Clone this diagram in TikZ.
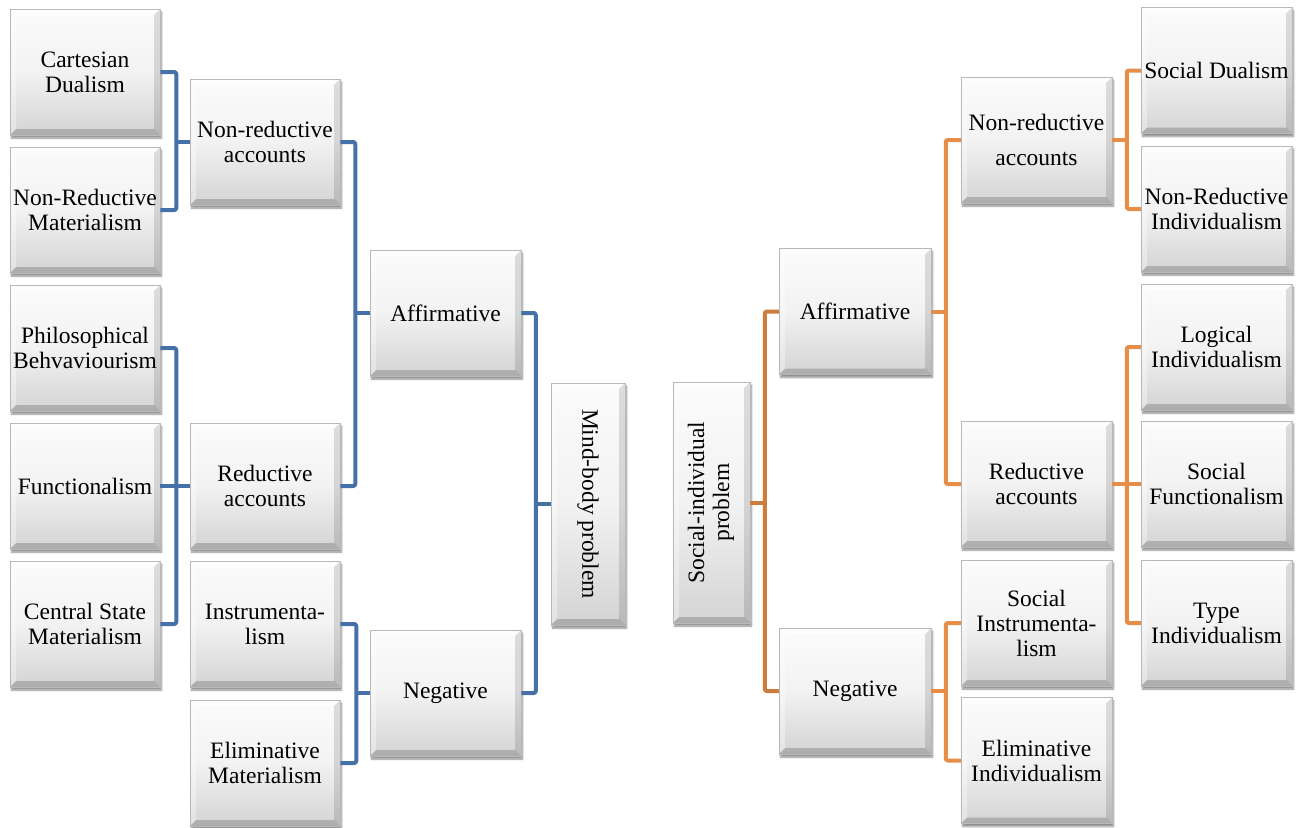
\documentclass[tikz,border=0pt]{standalone}
\usepackage{fontspec}
\setmainfont{Liberation Serif}
\usepackage{graphicx}
\usetikzlibrary{shadows.blur}

\definecolor{mbblue}{RGB}{70,112,168}
\definecolor{sidark}{RGB}{205,124,60}
\definecolor{silight}{RGB}{230,142,72}
\newcommand\bevw{6pt}

\tikzset{
  box/.style={
    rectangle, align=center, inner sep=1pt,
    minimum width=150pt, minimum height=126pt,
    top color=gray!3, bottom color=gray!34, middle color=gray!10,
    draw=gray!55, line width=0.5pt,
    font=\rmfamily\fontsize{23.5}{25}\selectfont,
    blur shadow={shadow xshift=1.5pt, shadow yshift=-3pt, shadow blur steps=6, shadow opacity=45},
    path picture={
      \fill[white,opacity=.6] (path picture bounding box.north west) -- (path picture bounding box.north east)
        -- ([shift={(-\bevw,-\bevw)}]path picture bounding box.north east)
        -- ([shift={(\bevw,-\bevw)}]path picture bounding box.north west) -- cycle;
      \fill[white,opacity=.35] (path picture bounding box.north west) -- (path picture bounding box.south west)
        -- ([shift={(\bevw,\bevw)}]path picture bounding box.south west)
        -- ([shift={(\bevw,-\bevw)}]path picture bounding box.north west) -- cycle;
      \fill[black,opacity=.12] (path picture bounding box.north east) -- (path picture bounding box.south east)
        -- ([shift={(-\bevw,\bevw)}]path picture bounding box.south east)
        -- ([shift={(-\bevw,-\bevw)}]path picture bounding box.north east) -- cycle;
      \fill[black,opacity=.18] (path picture bounding box.south west) -- (path picture bounding box.south east)
        -- ([shift={(-\bevw,\bevw)}]path picture bounding box.south east)
        -- ([shift={(\bevw,\bevw)}]path picture bounding box.south west) -- cycle;
    }},
  link/.style={line width=4pt, rounded corners=2pt, line join=round},
  lblue/.style={link, draw=mbblue},
  lodark/.style={link, draw=sidark},
  lolight/.style={link, draw=silight}
}

\begin{document}
\begin{tikzpicture}[x=1pt, y=-1pt]
\useasboundingbox (0,0) rectangle (1298,827);

% ---- Mind-body problem tree (left) ----
\node[box] (cart) at (85,72)  {Cartesian\\Dualism};
\node[box] (nrm)  at (85,210) {Non-Reductive\\Materialism};
\node[box] (phb)  at (85,348) {Philosophical\\Behvaviourism};
\node[box] (func) at (85,486) {Functionalism};
\node[box] (csm)  at (85,624) {Central State\\Materialism};

\node[box] (nracc) at (265,142) {Non-reductive\\accounts};
\node[box] (racc)  at (265,486) {Reductive\\accounts};
\node[box] (instr) at (265,624) {Instrumenta-\\lism};
\node[box] (elim)  at (265,763) {Eliminative\\Materialism};

\node[box, minimum width=151pt] (aff) at (445.5,313) {Affirmative};
\node[box, minimum width=151pt] (neg) at (445.5,693) {Negative};

\node[box, minimum width=74pt, minimum height=242pt] (mind) at (588,504)
  {\rotatebox{-90}{Mind-body problem}};

% ---- Social-individual problem tree (right) ----
\node[box, minimum width=77pt, minimum height=241pt] (soc) at (711.5,502.5)
  {\rotatebox{90}{\begin{tabular}{@{}c@{}}Social-individual\\problem\end{tabular}}};

\node[box, minimum width=152pt] (affR) at (855,311.5) {Affirmative};
\node[box, minimum width=152pt] (negR) at (855,691)   {Negative};

\node[box, minimum width=151pt] (nraccR) at (1036.5,140)   {Non-reductive\\[10pt]accounts};
\node[box, minimum width=151pt] (raccR)  at (1036.5,484)   {Reductive\\accounts};
\node[box, minimum width=151pt] (sinst)  at (1036.5,623)   {Social\\Instrumenta-\\lism};
\node[box, minimum width=151pt] (eind)   at (1036.5,760.5) {Eliminative\\Individualism};

\node[box, minimum width=151pt] (sdual) at (1216.5,70.5) {Social Dualism};
\node[box, minimum width=151pt] (nri)   at (1216.5,209)  {Non-Reductive\\Individualism};
\node[box, minimum width=151pt] (lind)  at (1216.5,347)  {Logical\\Individualism};
\node[box, minimum width=151pt] (sfun)  at (1216.5,484)  {Social\\Functionalism};
\node[box, minimum width=151pt] (tind)  at (1216.5,623)  {Type\\Individualism};

% ---- connectors, left tree ----
\draw[lblue] (cart.east) -- ++(16,0) |- (nrm.east);
\draw[lblue] (nracc.west) -- ++(-14,0);

\draw[lblue] (phb.east) -- ++(16,0) |- (csm.east);
\draw[lblue] (func.east) -- (racc.west);

\draw[lblue] (nracc.east) -- ++(15,0) |- (racc.east);
\draw[lblue] (aff.west) -- ++(-15,0);

\draw[lblue] (instr.east) -- ++(16,0) |- (elim.east);
\draw[lblue] (neg.west) -- ++(-14,0);

\draw[lblue] (aff.east) -- ++(14.5,0) |- (neg.east);
\draw[lblue] (mind.west) -- ++(-16,0);

% ---- connectors, right tree ----
\draw[lodark] (affR.west) -- ++(-14,0) |- (negR.west);
\draw[lodark] (soc.east) -- ++(15,0);

\draw[lolight] (nraccR.west) -- ++(-15,0) |- (raccR.west);
\draw[lolight] (affR.east) -- ++(15,0);

\draw[lolight] (sdual.west) -- ++(-14,0) |- (nri.west);
\draw[lolight] (nraccR.east) -- ++(15,0);

\draw[lolight] (lind.west) -- ++(-14,0) |- (tind.west);
\draw[lolight] (raccR.east) -- (sfun.west);

\draw[lolight] (sinst.west) -- ++(-15,0) |- (eind.west);
\draw[lolight] (negR.east) -- ++(15,0);
\end{tikzpicture}
\end{document}
